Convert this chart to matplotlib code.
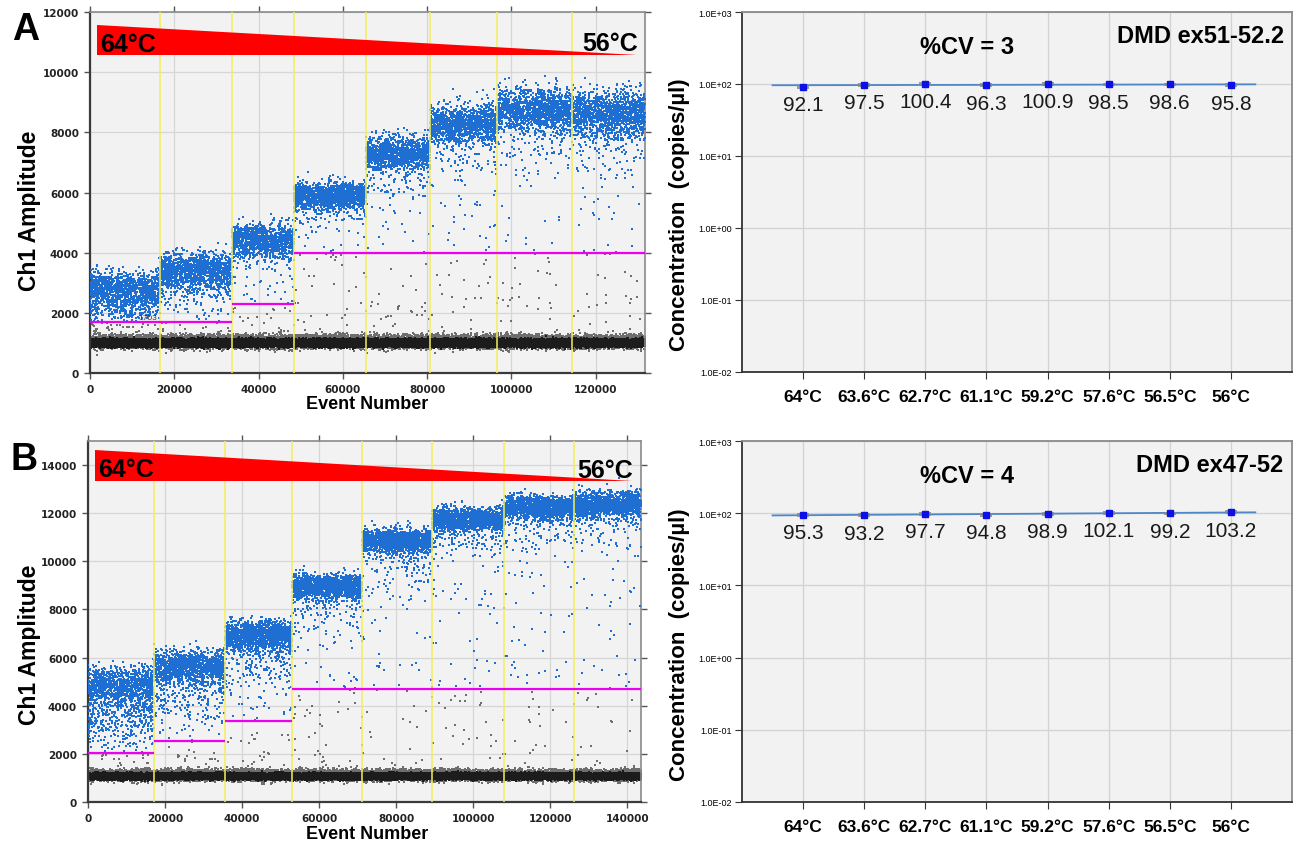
import numpy as np
import matplotlib.pyplot as plt

plt.rcParams['font.family'] = ['Liberation Sans', 'DejaVu Sans']

# ---- droplet plots (per-well summaries) ----
a_edges = [0, 16600, 33700, 48400, 65500, 80700, 96600, 114400, 131700]
a_pos_center = [2850, 3450, 4450, 5900, 7300, 8300, 8750, 8600]
a_pos_sd = [260, 270, 250, 210, 280, 320, 360, 380]
a_tail_frac = [0.25, 0.15, 0.10, 0.06, 0.08, 0.08, 0.08, 0.08]
a_tail_sd = [500, 450, 450, 500, 700, 800, 900, 900]
a_threshold = [1703, 1703, 2300, 4000, 4000, 4000, 4000, 4000]
a_neg_center = 1000

b_edges = [0, 17100, 35600, 53000, 71200, 89400, 108100, 126200, 143600]
b_pos_center = [4900, 5650, 6950, 8950, 10850, 11750, 12250, 12350]
b_pos_sd = [350, 310, 290, 250, 250, 240, 230, 260]
b_tail_frac = [0.35, 0.22, 0.15, 0.08, 0.08, 0.08, 0.08, 0.08]
b_tail_sd = [1100, 1000, 1000, 900, 900, 900, 900, 900]
b_threshold = [2030, 2550, 3350, 4700, 4700, 4700, 4700, 4700]
b_neg_center = 1070

# ---- concentration plots ----
temps = ['64°C', '63.6°C', '62.7°C', '61.1°C', '59.2°C', '57.6°C', '56.5°C', '56°C']
a_conc = [92.1, 97.5, 100.4, 96.3, 100.9, 98.5, 98.6, 95.8]
a_err = [3.0, 2.9, 3.0, 2.9, 3.0, 3.0, 3.0, 2.9]
b_conc = [95.3, 93.2, 97.7, 94.8, 98.9, 102.1, 99.2, 103.2]
b_err = [3.0, 2.9, 3.0, 2.9, 3.0, 3.1, 3.0, 3.1]

BLUE = '#1f6fd2'
BG = '#f2f2f2'

# individual droplets can't be read off the image, so they are synthesised
# around the per-well cluster values above (fixed seed)
rng = np.random.default_rng(7)


def droplets(edges, center, sd, tail_frac, tail_sd, neg):
    xs, ys, wells, core = [], [], [], []
    for i in range(len(center)):
        x = np.arange(edges[i], edges[i + 1], dtype=float)
        n = len(x)
        y = neg + rng.normal(0, 50, n)
        c = np.ones(n, bool)
        fr = rng.random(n) < 0.18
        y[fr] = neg + 40 + rng.normal(0, 100, fr.sum())
        c[fr] = False
        pos = rng.random(n) < 0.085
        yp = center[i] + rng.normal(0, sd[i], pos.sum())
        tl = rng.random(pos.sum()) < tail_frac[i]
        yp[tl] = center[i] - sd[i] - np.abs(rng.normal(0, tail_sd[i], tl.sum()))
        y[pos] = yp
        c[pos] = False
        rain = rng.random(n) < 0.004
        y[rain] = rng.uniform(neg + 250, center[i], rain.sum())
        c[rain] = False
        xs.append(x)
        ys.append(y)
        wells.append(np.full(n, i))
        core.append(c)
    return (np.concatenate(xs), np.concatenate(ys), np.concatenate(wells),
            np.concatenate(core))


def droplet_panel(ax, edges, center, sd, tail_frac, tail_sd, thr, neg, ymax, yticks, xticks,
                  tri, t_lo, t_hi):
    x, y, w, core = droplets(edges, center, sd, tail_frac, tail_sd, neg)
    is_pos = y > np.array(thr)[w]
    ax.set_facecolor(BG)
    m = ~is_pos & ~core
    ax.plot(x[m], y[m], 's', color='#6e6e6e', ms=1.5, mew=0, rasterized=True, zorder=2)
    m = ~is_pos & core
    ax.plot(x[m], y[m], 's', color='#1c1c1c', ms=1.5, mew=0, rasterized=True, zorder=2)
    ax.plot(x[is_pos], y[is_pos], 's', color=BLUE, ms=1.7, mew=0, rasterized=True, zorder=3)
    for e in edges[1:-1]:
        ax.axvline(e, color='#f4ee5a', lw=1.1, zorder=4)
    ax.hlines(thr, edges[:-1], edges[1:], color='#ee00ee', lw=1.6, zorder=5)
    ax.fill([tri[0], tri[0], tri[1]], [tri[2], tri[3], tri[4]], color='#ff0000', lw=0, zorder=6)
    ax.text(tri[0] + (edges[-1] * 0.005), (tri[2] + tri[3]) / 2 - ymax * 0.01, t_lo,
            fontsize=18, fontweight='bold', va='center', ha='left', zorder=7)
    ax.text(tri[1] + edges[-1] * 0.002, tri[4] + ymax * 0.032, t_hi,
            fontsize=18, fontweight='bold', va='center', ha='right', zorder=7)
    ax.set_xlim(0, edges[-1])
    ax.set_ylim(0, ymax)
    ax.set_xticks(xticks)
    ax.set_yticks(yticks)
    ax.grid(True, color='#d6d6d6', lw=0.9, zorder=0)
    ax.set_axisbelow(True)
    ax.tick_params(top=True, right=True, direction='out', length=4, width=1,
                   color='#555555', labelsize=7.5, pad=4, labelcolor='#222222')
    for lab in ax.get_xticklabels() + ax.get_yticklabels():
        lab.set_fontfamily('DejaVu Sans')
        lab.set_fontweight('bold')
    for s in ['left', 'bottom']:
        ax.spines[s].set_color('#3a3a3a')
        ax.spines[s].set_linewidth(1.6)
    for s in ['top', 'right']:
        ax.spines[s].set_color('#8a8a8a')
        ax.spines[s].set_linewidth(1.2)


def conc_panel(ax, conc, err, cv, name):
    pos = np.arange(1, len(conc) + 1)
    ax.set_facecolor(BG)
    ax.set_yscale('log')
    ax.set_ylim(0.01, 1000)
    ax.set_xlim(0, len(conc) + 1)
    fit = np.polyfit(pos, conc, 1)
    xx = np.array([0.5, len(conc) + 0.4])
    ax.plot(xx, np.polyval(fit, xx), color='#4f86c6', lw=1.3, zorder=3)
    ax.errorbar(pos, conc, yerr=err, fmt='s', color='#0a10e6', ms=5, ecolor='#8a8a8a',
                elinewidth=1.2, capsize=4, capthick=1.2, zorder=4)
    for p, v in zip(pos, conc):
        ax.annotate(f'{v}', (p, v), xytext=(0, -6), textcoords='offset points',
                    ha='center', va='top', fontsize=15, color='#1a1a1a')
    ax.text(0.41, 0.905, cv, transform=ax.transAxes, fontsize=17, fontweight='bold',
            ha='center', va='center')
    ax.text(0.985, 0.935, name, transform=ax.transAxes, fontsize=17, fontweight='bold',
            ha='right', va='center')
    ax.set_xticks(pos)
    ax.set_xticklabels(temps, fontsize=12.5, fontweight='bold')
    ax.set_yticks([0.01, 0.1, 1, 10, 100, 1000])
    ax.set_yticklabels(['1.0E-02', '1.0E-01', '1.0E+00', '1.0E+01', '1.0E+02', '1.0E+03'],
                       fontsize=6.5)
    ax.minorticks_off()
    ax.grid(True, color='#d2d2d2', lw=0.9, zorder=0)
    ax.set_axisbelow(True)
    ax.tick_params(axis='x', length=5, pad=7, color='#333333')
    ax.tick_params(axis='y', length=5, pad=2, color='#333333')
    for s in ['left', 'bottom']:
        ax.spines[s].set_color('#333333')
        ax.spines[s].set_linewidth(1.3)
    for s in ['top', 'right']:
        ax.spines[s].set_color('#8a8a8a')
        ax.spines[s].set_linewidth(1.3)


fig = plt.figure(figsize=(12.98, 8.45), dpi=100)
W, H = 1298.0, 845.0


def px_axes(x0, y0, x1, y1):
    return fig.add_axes([x0 / W, 1 - y1 / H, (x1 - x0) / W, (y1 - y0) / H])


axA = px_axes(90, 13, 645, 374)
droplet_panel(axA, a_edges, a_pos_center, a_pos_sd, a_tail_frac, a_tail_sd, a_threshold,
              a_neg_center, 12000, np.arange(0, 12001, 2000), np.arange(0, 120001, 20000),
              (1660, 129800, 11570, 10570, 10570), '64°C', '56°C')
axA.text(13760, 1830, '1703', fontsize=6, color='#333333', ha='center', va='center', zorder=7)

axB = px_axes(88, 442, 641, 803)
droplet_panel(axB, b_edges, b_pos_center, b_pos_sd, b_tail_frac, b_tail_sd, b_threshold,
              b_neg_center, 15000, np.arange(0, 14001, 2000), np.arange(0, 140001, 20000),
              (1820, 141300, 14620, 13330, 13330), '64°C', '56°C')

axC = px_axes(742, 13, 1292, 373)
conc_panel(axC, a_conc, a_err, '%CV = 3', 'DMD ex51-52.2')

axD = px_axes(742, 442, 1292, 803)
conc_panel(axD, b_conc, b_err, '%CV = 4', 'DMD ex47-52')

# axis titles and panel letters
for yc, yb in [(211, 405), (645, 835)]:
    fig.text(30 / W, 1 - yc / H, 'Ch1 Amplitude', rotation=90, fontsize=16.5, fontweight='bold',
             ha='center', va='center')
    fig.text(367 / W, 1 - yb / H, 'Event Number', fontsize=13, fontweight='bold',
             ha='center', va='center')
for yc in [215, 645]:
    fig.text(680 / W, 1 - yc / H, 'Concentration  (copies/µl)', rotation=90, fontsize=16,
             fontweight='bold', ha='center', va='center')
fig.text(26 / W, 1 - 30 / H, 'A', fontsize=27, fontweight='bold', ha='center', va='center')
fig.text(24 / W, 1 - 460 / H, 'B', fontsize=27, fontweight='bold', ha='center', va='center')

fig.savefig('out.png', dpi=100)
